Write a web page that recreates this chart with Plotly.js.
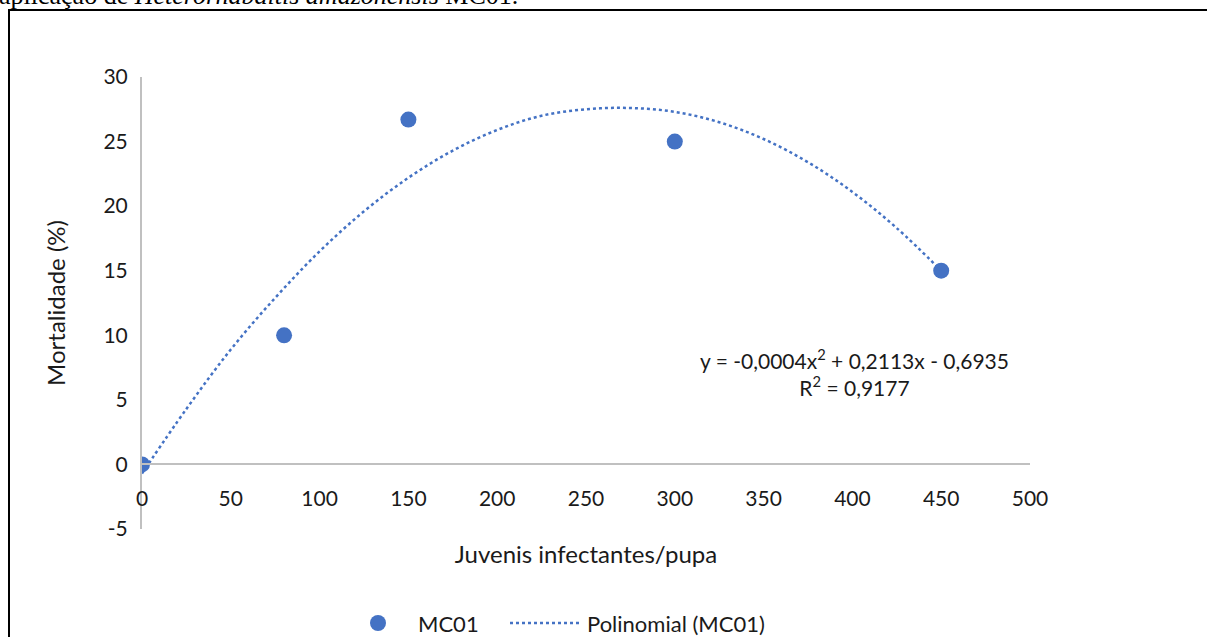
<!DOCTYPE html>
<html>
<head>
<meta charset="utf-8">
<script src="https://cdn.plot.ly/plotly-3.0.1.min.js"></script>
<style>
html,body{margin:0;padding:0;background:#fff;}
#chart{width:1207px;height:637px;}
</style>
</head>
<body>
<div id="chart"></div>
<script>
// Data
const doses = [0, 80, 150, 300, 450];
const mortality = [0, 10, 26.7, 25, 15];
// Trendline
const trendX = [0, 25, 50, 75, 100, 125, 150, 175, 200, 225, 250, 275, 300, 325, 350, 375, 400, 425, 450];
const trendY = [-0.7, 4.3, 8.9, 12.9, 16.5, 19.6, 22.2, 24.3, 25.9, 27.0, 27.5, 27.6, 27.3, 26.5, 25.2, 23.4, 21.1, 18.3, 15.0];
const xTicks = [0, 50, 100, 150, 200, 250, 300, 350, 400, 450, 500];
const yTicks = [-5, 0, 5, 10, 15, 20, 25, 30];
const seriesName = 'MC01';
const trendName = 'Polinomial (MC01)';
const equationText = 'y = -0,0004x<sup>2</sup> + 0,2113x - 0,6935<br>R<sup>2</sup> = 0,9177';
const captionText = 'aplicação de <i>Heterorhabditis amazonensis</i> MC01.';

const blue = '#4472C4';
const axisGray = '#c0c0c0';
const txt = '#1a1a1a';
const font = 'Lato, "Open Sans", sans-serif';

const traces = [
  {
    x: doses, y: mortality, type: 'scatter', mode: 'markers', name: seriesName,
    marker: {color: blue, size: 16}
  },
  {
    x: trendX, y: trendY, type: 'scatter', mode: 'lines', name: trendName,
    line: {color: blue, width: 2.5, dash: 'dot', shape: 'spline'}
  }
];

const yZeroFrac = (0 - (-5)) / (30 - (-5));
// pixel -> paper helpers for the outer decorations
const px = v => (v - 142) / 888;
const py = v => (529 - v) / 452;
const legY = 623;

const layout = {
  width: 1207, height: 637,
  margin: {l: 142, r: 177, t: 77, b: 108, autoexpand: false},
  paper_bgcolor: '#fff', plot_bgcolor: '#fff',
  font: {family: font, size: 21, color: txt},
  showlegend: false,
  xaxis: {
    range: [0, 500], tickvals: xTicks, ticktext: xTicks.map(String),
    anchor: 'free', position: yZeroFrac,
    showline: true, linecolor: axisGray, linewidth: 2,
    showgrid: false, zeroline: false,
    ticks: 'outside', ticklen: 15, tickcolor: 'rgba(0,0,0,0)',
    tickfont: {family: font, size: 21, color: txt},
    title: {text: 'Juvenis infectantes/pupa', font: {family: font, size: 24, color: txt}, standoff: 37}
  },
  yaxis: {
    range: [-5, 30], tickvals: yTicks, ticktext: yTicks.map(String),
    showline: true, linecolor: axisGray, linewidth: 2,
    showgrid: false, zeroline: false,
    ticks: 'outside', ticklen: 8, tickcolor: 'rgba(0,0,0,0)',
    tickfont: {family: font, size: 21, color: txt},
    title: {text: 'Mortalidade (%)', font: {family: font, size: 24, color: txt}, standoff: 31}
  },
  annotations: [
    {
      xref: 'x', yref: 'y', x: 401, y: 7.1, text: equationText, showarrow: false,
      font: {family: font, size: 21, color: txt}, align: 'center', xanchor: 'center', yanchor: 'middle'
    },
    {
      xref: 'paper', yref: 'paper', x: px(-3), y: py(-5), text: captionText,
      showarrow: false, xanchor: 'left', yanchor: 'middle',
      font: {family: '"Liberation Serif", "DejaVu Serif", serif', size: 26, color: '#000'}
    },
    {
      xref: 'paper', yref: 'paper', x: px(416), y: py(legY), text: seriesName,
      showarrow: false, xanchor: 'left', yanchor: 'middle',
      font: {family: font, size: 22, color: txt}
    },
    {
      xref: 'paper', yref: 'paper', x: px(585), y: py(legY), text: trendName,
      showarrow: false, xanchor: 'left', yanchor: 'middle',
      font: {family: font, size: 22, color: txt}
    }
  ],
  shapes: [
    {
      type: 'rect', xref: 'paper', yref: 'paper',
      x0: px(9), x1: px(1212), y0: py(642), y1: py(10),
      line: {color: '#000', width: 2}, fillcolor: 'rgba(0,0,0,0)', layer: 'below'
    },
    {
      type: 'circle', xref: 'paper', yref: 'paper',
      x0: px(370), x1: px(386), y0: py(legY + 8), y1: py(legY - 8),
      line: {width: 0}, fillcolor: blue
    },
    {
      type: 'line', xref: 'paper', yref: 'paper',
      x0: px(510), x1: px(580), y0: py(legY), y1: py(legY),
      line: {color: blue, width: 2.5, dash: 'dot'}
    }
  ]
};

Plotly.newPlot('chart', traces, layout, {displayModeBar: false, staticPlot: true});
</script>
</body>
</html>
